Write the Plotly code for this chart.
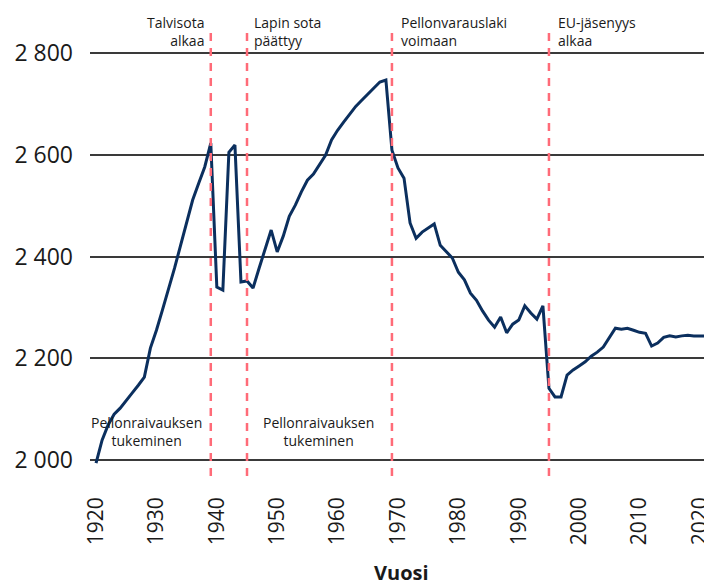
import plotly.graph_objects as go

years = list(range(1920, 2023))
values = [
    1994, 2039, 2069, 2090, 2102, 2118, 2132, 2147, 2163, 2220,   # 1920-1929
    2255, 2295, 2334, 2377, 2422, 2468, 2511, 2544, 2576, 2623,   # 1930-1939
    2340, 2334, 2605, 2619, 2350, 2352, 2338, 2377, 2413, 2452,   # 1940-1949
    2409, 2440, 2479, 2501, 2527, 2550, 2562, 2580, 2599, 2629,   # 1950-1959
    2648, 2664, 2680, 2695, 2707, 2719, 2731, 2743, 2747, 2609,   # 1960-1969
    2574, 2554, 2466, 2436, 2448, 2456, 2464, 2422, 2409, 2397,   # 1970-1979
    2369, 2354, 2328, 2314, 2293, 2275, 2261, 2281, 2250, 2267,   # 1980-1989
    2275, 2303, 2289, 2277, 2303, 2141, 2124, 2124, 2167, 2177,   # 1990-1999
    2185, 2193, 2204, 2212, 2222, 2240, 2259, 2257, 2259, 2255,   # 2000-2009
    2251, 2249, 2224, 2230, 2241, 2244, 2242, 2244, 2245, 2244,   # 2010-2019
    2244, 2244, 2244,                                             # 2020-2022
]

y_tickvals = [2000, 2200, 2400, 2600, 2800]
y_ticktext = ["2 000", "2 200", "2 400", "2 600", "2 800"]
x_tickvals = [1920, 1930, 1940, 1950, 1960, 1970, 1980, 1990, 2000, 2010, 2020]

event_years = [1939, 1945, 1969, 1995]
event_labels = ["Talvisota<br>alkaa", "Lapin sota<br>päättyy", "Pellonvarauslaki<br>voimaan", "EU-jäsenyys<br>alkaa"]
event_anchor = ["right", "left", "left", "left"]
event_shift = [-5, 5, 7, 7]

period_x = [1928.4, 1956.8]
period_labels = ["Pellonraivauksen<br>tukeminen", "Pellonraivauksen<br>tukeminen"]

font_family = "'Open Sans', Lato, sans-serif"
text_color = "#1a1a1a"

fig = go.Figure()
fig.add_trace(go.Scatter(
    x=years, y=values, mode="lines",
    line=dict(color="#0b2f5e", width=3),
    hoverinfo="skip", showlegend=False,
))

for yr in event_years:
    fig.add_shape(type="line", xref="x", yref="paper", x0=yr, x1=yr, y0=0, y1=0.957,
                  line=dict(color="#ff6b78", width=2.5, dash="8px,7px"), layer="above")

for yr, lab, anc, sh in zip(event_years, event_labels, event_anchor, event_shift):
    fig.add_annotation(x=yr, y=2843, xref="x", yref="y", text=lab, showarrow=False,
                       xanchor=anc, yanchor="middle", align=anc, xshift=sh,
                       font=dict(size=14, color=text_color, family=font_family))

for xp, lab in zip(period_x, period_labels):
    fig.add_annotation(x=xp, y=2056, xref="x", yref="y", text=lab, showarrow=False,
                       xanchor="center", yanchor="middle", align="center",
                       font=dict(size=14, color=text_color, family=font_family))

fig.add_annotation(x=0.5, y=-0.207, xref="paper", yref="paper", text="<b>Vuosi</b>",
                   showarrow=False, xanchor="center", yanchor="middle", borderpad=0,
                   font=dict(size=20, color=text_color, family=font_family))

# page has an 8px body margin; figure sized to fill the remaining window
fig.update_layout(
    width=704, height=579,
    margin=dict(l=82, r=0, t=2, b=111),
    paper_bgcolor="white", plot_bgcolor="white",
    font=dict(family=font_family, color=text_color),
    xaxis=dict(
        range=[1919, 2022], tickvals=x_tickvals, tickangle=-90,
        showgrid=False, zeroline=False, showline=False, ticks="",
        tickfont=dict(size=21, color=text_color), ticklabelstandoff=16,
        automargin=False, ticklabeloverflow="allow",
    ),
    yaxis=dict(
        range=[1968.6, 2884.5], tickvals=y_tickvals, ticktext=y_ticktext,
        showgrid=True, gridcolor="#3a3a3a", gridwidth=1.5, zeroline=False, showline=False,
        ticks="", tickfont=dict(size=23, color=text_color), ticklabelstandoff=16,
        automargin=False, ticklabeloverflow="allow",
    ),
)

fig.write_html("out.html")
